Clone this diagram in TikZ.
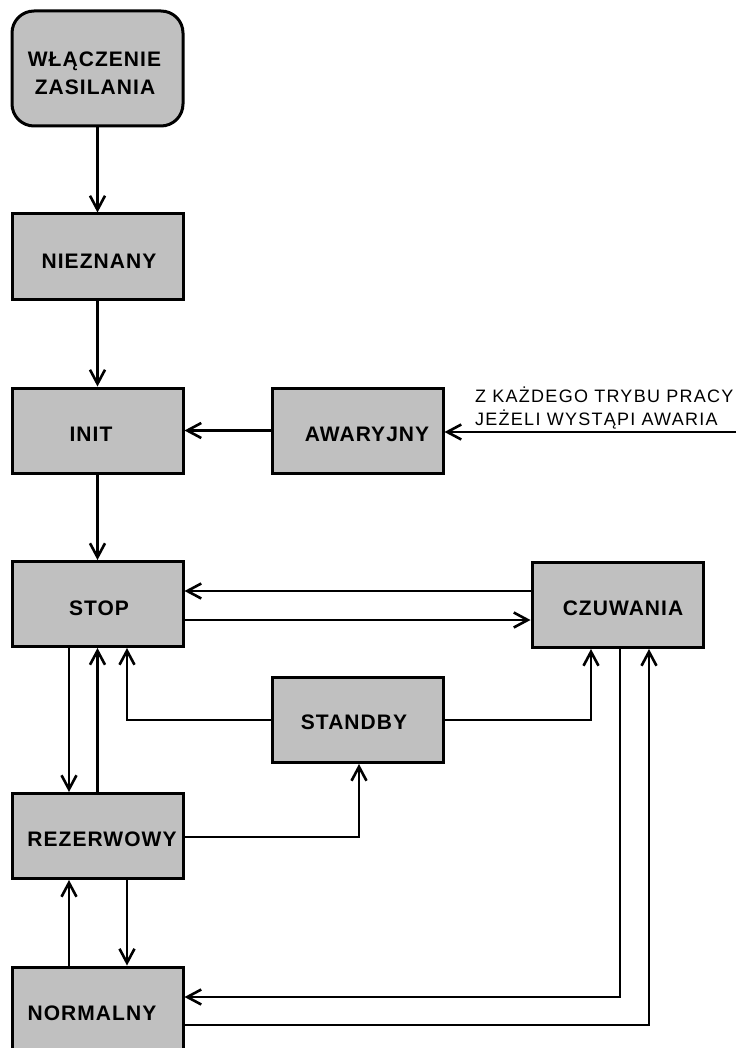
\documentclass[tikz,border=0pt]{standalone}
\usepackage{fontspec}
\setmainfont{Liberation Sans}
\newfontfamily\boxfont{Liberation Sans}[LetterSpace=5]
\newfontfamily\notefont{Liberation Sans}[LetterSpace=7]
\usetikzlibrary{arrows.meta}
\definecolor{boxgray}{HTML}{C0C0C0}
\begin{document}
\begin{tikzpicture}[x=1pt,y=-1pt,
  state/.style={draw=black, fill=boxgray, line width=3pt, minimum width=171pt, minimum height=85pt, inner sep=0pt},
  lbl/.style={font=\boxfont\bfseries\fontsize{21}{25}\selectfont, inner sep=0pt, anchor=base},
  note/.style={font=\notefont\fontsize{18}{22}\selectfont, inner sep=0pt, anchor=base west},
  conn/.style={line width=2.6pt, -{Straight Barb[length=14pt,width=15pt]}}
]
\useasboundingbox (0,0) rectangle (736,1048);
\clip (0,0) rectangle (736,1048);
\fill[white] (0,0) rectangle (736,1048);

% boxes
\node[state, minimum height=115pt, rounded corners=22pt] (WL) at (97.5,68.5) {};
\node[state] (NIE) at (97.5,256.5) {};
\node[state] (INIT) at (97.5,430.5) {};
\node[state] (AWA) at (357.5,430.5) {};
\node[state] (STOP) at (97.5,604) {};
\node[state] (CZU) at (617.5,605) {};
\node[state] (STB) at (357.5,720) {};
\node[state] (REZ) at (97.5,836) {};
\node[state] (NOR) at (97.5,1009.5) {};

% labels
\node[lbl] (tWL1) at (94.5,66.5) {WŁĄCZENIE};
\node[lbl] (tWL2) at (95,95) {ZASILANIA};
\node[lbl] (tNIE) at (99,268.5) {NIEZNANY};
\node[lbl] (tINIT) at (91,441.5) {INIT};
\node[lbl] (tAWA) at (367,441) {AWARYJNY};
\node[lbl] (tSTOP) at (99,615.5) {STOP};
\node[lbl] (tCZU) at (623,615.5) {CZUWANIA};
\node[lbl] (tSTB) at (354,729.5) {STANDBY};
\node[lbl] (tREZ) at (102,846.5) {REZERWOWY};
\node[lbl] (tNOR) at (92,1020.5) {NORMALNY};

\node[note] (n1) at (475,402) {Z KAŻDEGO TRYBU PRACY};
\node[note] (n2) at (475,425) {JEŻELI WYSTĄPI AWARIA};

\coordinate (ext) at (736,432);

% connectors
\draw[conn] (WL.south) -- (NIE.north);
\draw[conn] (NIE.south) -- (INIT.north);
\draw[conn] (INIT.south) -- (STOP.north);
\draw[conn] (AWA.west) -- (INIT.east);
\draw[conn] (ext) -- (ext -| AWA.east);
\draw[conn] ([yshift=14pt]CZU.west) -- ([yshift=13pt]STOP.east);
\draw[conn] ([yshift=-16pt]STOP.east) -- ([yshift=-15pt]CZU.west);
\draw[conn] ([xshift=-28.5pt]STOP.south) -- ([xshift=-28.5pt]REZ.north);
\draw[conn] (REZ.north) -- (STOP.south);
\draw[conn] (STB.west) -| ([xshift=29.5pt]STOP.south);
\draw[conn] (STB.east) -| ([xshift=-26.5pt]CZU.south);
\draw[conn] ([yshift=-1pt]REZ.east) -| ([xshift=1.5pt]STB.south);
\draw[conn] ([xshift=-28.5pt]NOR.north) -- ([xshift=-28.5pt]REZ.south);
\draw[conn] ([xshift=29.5pt]REZ.south) -- ([xshift=29.5pt]NOR.north);
\draw[conn] ([xshift=2.5pt]CZU.south) |- ([yshift=12.5pt]NOR.east);
\draw[conn] ([yshift=-15.5pt]NOR.east) -| ([xshift=31.5pt]CZU.south);
\end{tikzpicture}
\end{document}
